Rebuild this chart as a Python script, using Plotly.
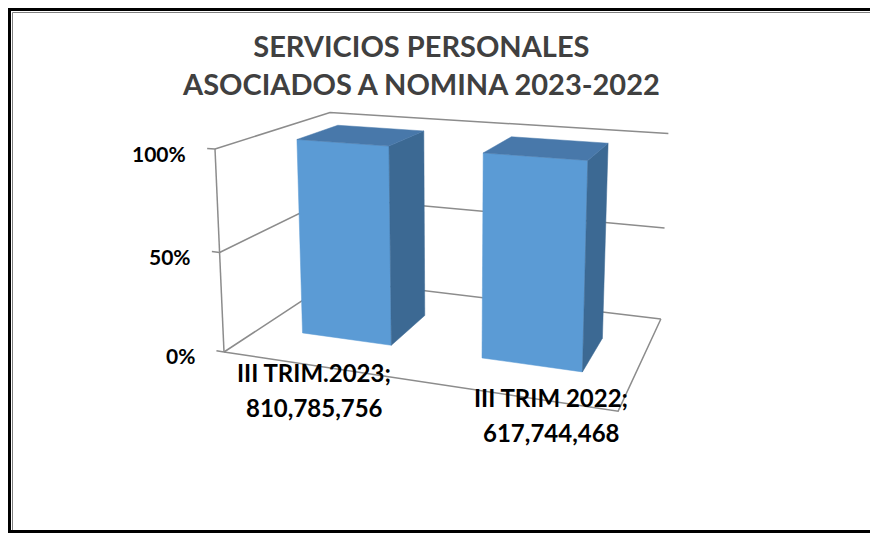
import plotly.graph_objects as go

# -----------------------------
# DATOS
# -----------------------------
categorias = ["III TRIM.2023", "III TRIM 2022"]
valores = [810785756, 617744468]
# columnas 100% apiladas con una sola serie: cada columna llega al 100%
porcentaje = [100, 100]
ticks_pct = [0, 50, 100]
ticks_txt = ["0%", "50%", "100%"]

titulo = "<b>SERVICIOS PERSONALES<br>ASOCIADOS A NOMINA 2023-2022</b>"

# -----------------------------
# PROYECCION 3D (perspectiva tipo Excel)
# caja: x = categorias [0,1], y = fondo [0,1], z = valor [0,1]
# -----------------------------
PROY = [
    [317.8, 183.7, -17.17, 224.0],
    [8.40, -10.18, -208.66, 352.0],
    [-0.1235, 0.2213, -0.038, 1.0],
]


def proy(x, y, z):
    u = PROY[0][0] * x + PROY[0][1] * y + PROY[0][2] * z + PROY[0][3]
    v = PROY[1][0] * x + PROY[1][1] * y + PROY[1][2] * z + PROY[1][3]
    w = PROY[2][0] * x + PROY[2][1] * y + PROY[2][2] * z + PROY[2][3]
    return u / w, v / w


FRENTE = "#5B9BD5"
LADO = "#3C6993"
TAPA = "#4878AA"
GRILLA = "#8C8C8C"
FUENTE = "Lato, 'Open Sans', sans-serif"

ANCHO_BARRA = 0.255
FONDO_0 = 0.30
FONDO_1 = 0.68

# el body de la pagina deja 8 px de margen
MARGEN_PAGINA = 8

fig = go.Figure()


def linea(puntos, color=GRILLA, ancho=1.5):
    xs, ys = zip(*[proy(*p) for p in puntos])
    fig.add_trace(go.Scatter(x=xs, y=ys, mode="lines",
                             line=dict(color=color, width=ancho),
                             hoverinfo="skip", showlegend=False))


def cara(puntos, color):
    xs, ys = zip(*[proy(*p) for p in puntos])
    fig.add_trace(go.Scatter(x=list(xs) + [xs[0]], y=list(ys) + [ys[0]],
                             mode="lines", fill="toself", fillcolor=color,
                             line=dict(color=color, width=0.5),
                             hoverinfo="skip", showlegend=False))


# -----------------------------
# PAREDES, PISO Y EJE
# -----------------------------
for t in ticks_pct:
    z = t / 100
    linea([(0, 0, z), (0, 1, z), (1, 1, z)])

linea([(0, 0, 0), (1, 0, 0), (1, 1, 0)])
linea([(0, 0, 0), (0, 0, 1)])

anotaciones = []
for t, txt in zip(ticks_pct, ticks_txt):
    z = t / 100
    linea([(0, 0, z), (-0.022, 0, z)])
    u, v = proy(-0.022, 0, z)
    anotaciones.append(dict(
        x=u - 19, y=v, xref="x", yref="y", text=f"<b>{txt}</b>",
        showarrow=False, xanchor="right", yanchor="middle", yshift=-5,
        font=dict(family=FUENTE, size=21, color="black")
    ))

# -----------------------------
# COLUMNAS
# -----------------------------
n = len(categorias)
desplaz = [-32, 20]
for i, (cat, val, pct) in enumerate(zip(categorias, valores, porcentaje)):
    xc = (i + 0.5) / n
    xl = xc - ANCHO_BARRA / 2
    xr = xc + ANCHO_BARRA / 2
    z = pct / 100
    cara([(xl, FONDO_0, 0), (xr, FONDO_0, 0), (xr, FONDO_0, z), (xl, FONDO_0, z)], FRENTE)
    cara([(xr, FONDO_0, 0), (xr, FONDO_1, 0), (xr, FONDO_1, z), (xr, FONDO_0, z)], LADO)
    cara([(xl, FONDO_0, z), (xr, FONDO_0, z), (xr, FONDO_1, z), (xl, FONDO_1, z)], TAPA)

    u, v = proy(xc, FONDO_0, 0)
    for k, txt in enumerate([f"{cat};", f"{val:,}"]):
        anotaciones.append(dict(
            x=u + desplaz[i], y=v + 33 + 35 * k, xref="x", yref="y",
            text=f"<b>{txt}</b>", showarrow=False,
            xanchor="center", yanchor="middle",
            font=dict(family=FUENTE, size=24, color="black")
        ))

# titulo
anotaciones.append(dict(
    x=421, y=64, xref="x", yref="y", text=titulo, showarrow=False,
    xanchor="center", yanchor="middle",
    font=dict(family=FUENTE, size=29, color="#404040")
))

fig.update_layout(
    width=878 - MARGEN_PAGINA,
    height=533 - MARGEN_PAGINA,
    margin=dict(l=0, r=0, t=0, b=0),
    paper_bgcolor="white",
    plot_bgcolor="white",
    annotations=anotaciones,
    shapes=[
        dict(type="rect", xref="x", yref="y", x0=9.5, y0=9.5, x1=900, y1=531.5,
             line=dict(color="black", width=3)),
        dict(type="line", xref="x", yref="y", x0=12.5, y0=12.5, x1=900, y1=12.5,
             line=dict(color="#808080", width=1)),
        dict(type="line", xref="x", yref="y", x0=12.5, y0=12.5, x1=12.5, y1=530,
             line=dict(color="#808080", width=1)),
    ],
    showlegend=False,
)

fig.update_xaxes(range=[MARGEN_PAGINA, 878], visible=False, fixedrange=True)
fig.update_yaxes(range=[533, MARGEN_PAGINA], visible=False, fixedrange=True)

fig.write_html("out.html")
